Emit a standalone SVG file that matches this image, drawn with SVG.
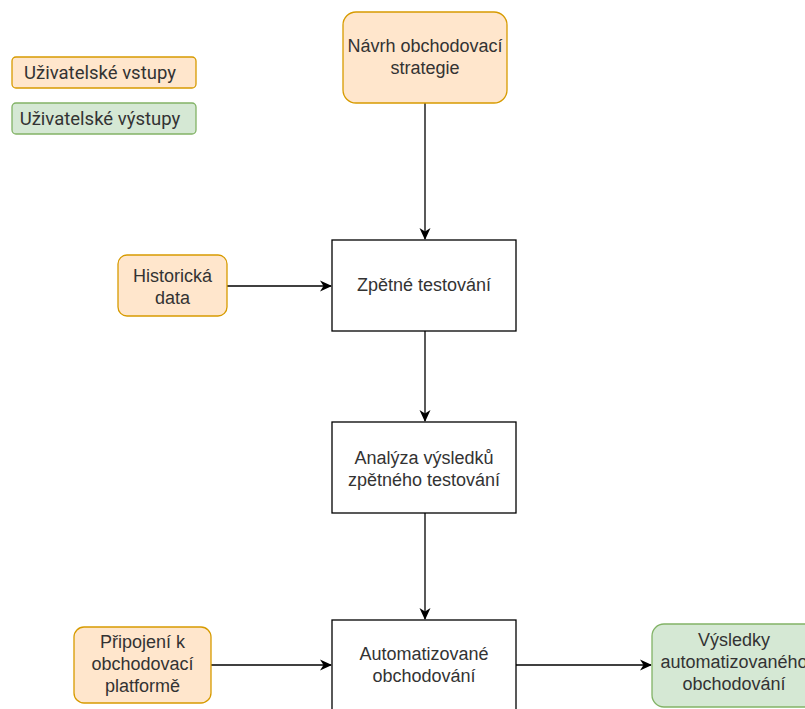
<svg xmlns="http://www.w3.org/2000/svg" width="805" height="709" viewBox="0 0 805 709">
<defs>
<style>
.in{fill:#ffe6cc;stroke:#d79b00;stroke-width:1.3}
.out{fill:#d5e8d4;stroke:#82b366;stroke-width:1.3}
.proc{fill:#ffffff;stroke:#000000;stroke-width:1.3}
.t{font-family:"Liberation Sans",Arial,sans-serif;font-size:18px;fill:#333333;text-anchor:middle}
.lg{font-family:Roboto,"Liberation Sans",sans-serif;font-size:18.5px;fill:#333333;text-anchor:middle}
.e{fill:none;stroke:#000000;stroke-width:1.3}
</style>
<marker id="ah" markerWidth="12" markerHeight="12" refX="11" refY="6" orient="auto" markerUnits="userSpaceOnUse">
<path d="M0,0.5 L12,6 L0,11.5 L3.5,6 Z" fill="#000000"/>
</marker>
</defs>
<rect width="805" height="709" fill="#ffffff"/>
<g id="legend-inputs"><rect class="in" x="12" y="57" width="184" height="31" rx="4"/><text class="lg" x="100" y="79">Uživatelské vstupy</text></g>
<g id="legend-outputs"><rect class="out" x="12" y="103" width="184" height="31" rx="4"/><text class="lg" x="100" y="125">Uživatelské výstupy</text></g>
<g id="connectors">
<path class="e" d="M425,103 L425,239" marker-end="url(#ah)"/>
<path class="e" d="M227,286 L331,286" marker-end="url(#ah)"/>
<path class="e" d="M425,331 L425,421" marker-end="url(#ah)"/>
<path class="e" d="M425,513 L425,619" marker-end="url(#ah)"/>
<path class="e" d="M211,665 L331,665" marker-end="url(#ah)"/>
<path class="e" d="M516,665 L651,665" marker-end="url(#ah)"/>
</g>
<g id="n-navrh"><rect class="in" x="343" y="12" width="164" height="91" rx="13"/><text class="t" x="425" y="52">Návrh obchodovací</text><text class="t" x="425" y="74">strategie</text></g>
<g id="n-historicka"><rect class="in" x="118" y="255" width="109" height="61" rx="9"/><text class="t" x="172.5" y="282">Historická</text><text class="t" x="172.5" y="304">data</text></g>
<g id="n-zpetne"><rect class="proc" x="332" y="240" width="184" height="91"/><text class="t" x="424" y="291">Zpětné testování</text></g>
<g id="n-analyza"><rect class="proc" x="332" y="422" width="184" height="91"/><text class="t" x="424" y="464">Analýza výsledků</text><text class="t" x="424" y="486">zpětného testování</text></g>
<g id="n-automat"><rect class="proc" x="332" y="620" width="184" height="95"/><text class="t" x="424" y="660">Automatizované</text><text class="t" x="424" y="682">obchodování</text></g>
<g id="n-pripojeni"><rect class="in" x="74" y="627" width="137" height="76" rx="10"/><text class="t" x="142.5" y="648">Připojení k</text><text class="t" x="142.5" y="670">obchodovací</text><text class="t" x="142.5" y="692">platformě</text></g>
<g id="n-vysledky"><rect class="out" x="652" y="624" width="165" height="83" rx="12"/><text class="t" x="734" y="646">Výsledky</text><text class="t" x="734" y="668">automatizovaného</text><text class="t" x="734" y="690">obchodování</text></g>
</svg>
